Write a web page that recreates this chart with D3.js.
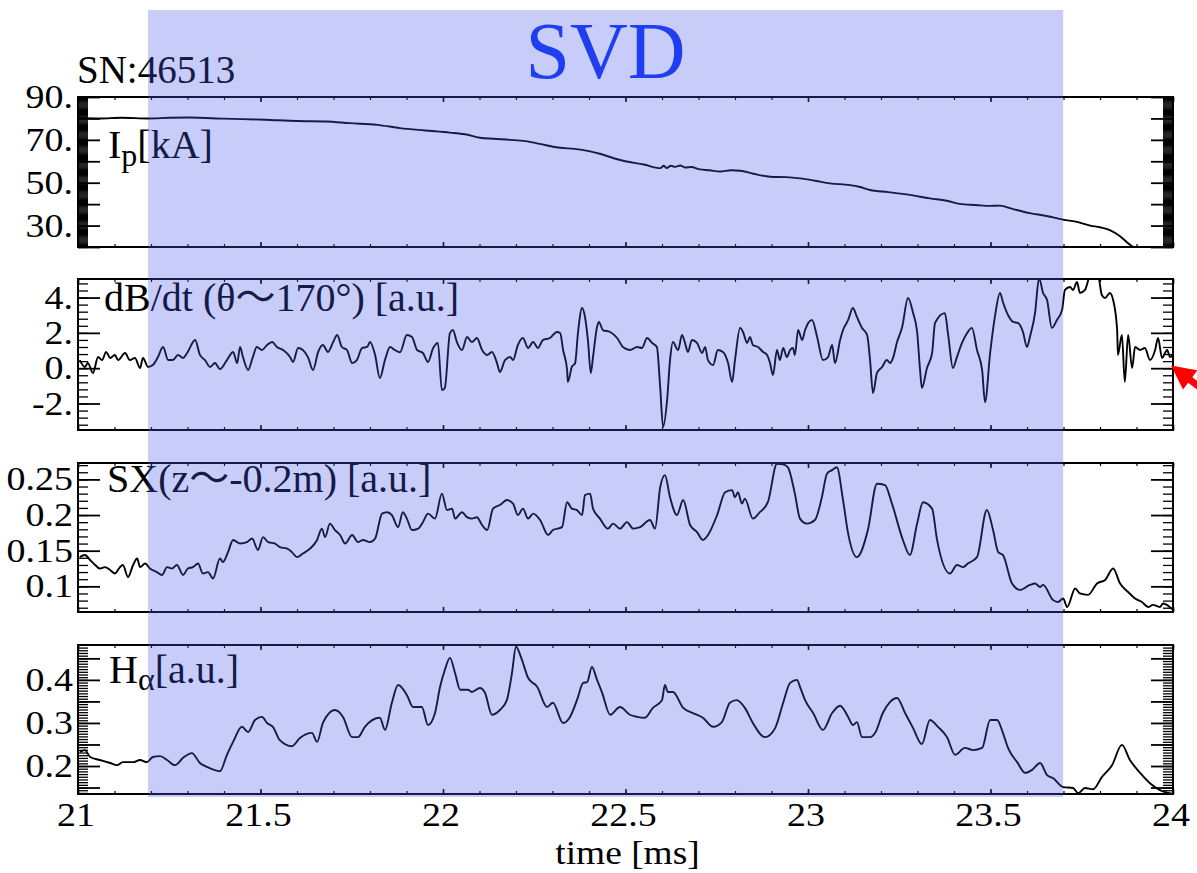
<!DOCTYPE html>
<html>
<head>
<meta charset="utf-8">
<title>SN:46513</title>
<script src="https://cdn.jsdelivr.net/npm/d3@7/dist/d3.min.js"></script>
<style>
  html, body { margin: 0; padding: 0; background: #fff; }
  svg { display: block; }
  svg text { font-family: "Liberation Serif", serif; fill: #000; }
  svg text tspan.wave { font-family: "Noto Sans CJK JP", "DejaVu Serif", serif; }
</style>
</head>
<body>
<svg id="chart" width="1197" height="873"></svg>
<script>
// ---------------- data ----------------
const shotNumber = "SN:46513";
const windowTitle = "SVD";
const timeRange = [21, 24];                        // ms
const timeTickValues = [21, 21.5, 22, 22.5, 23, 23.5, 24];
const timeTickLabels = ["21", "21.5", "22", "22.5", "23", "23.5", "24"];
const timeTitle = "time [ms]";
const svdWindow = [21.192, 23.699];                // ms, SVD analysis interval

// plasma current [kA]
const ipRange = [20, 90];
const ipTickValues = [90, 70, 50, 30];
const ipTickLabels = ["90.", "70.", "50.", "30."];
const ipSignal = [
  [21.000, 80.2], [21.060, 80.0], [21.120, 80.3], [21.192, 80.0], [21.250, 80.3], [21.307, 80.4],
  [21.400, 79.9], [21.512, 79.4], [21.600, 78.8], [21.680, 78.6], [21.745, 77.8], [21.820, 77.0],
  [21.882, 75.5], [21.950, 74.4], [22.019, 73.4], [22.060, 72.6], [22.101, 71.0], [22.140, 70.5],
  [22.184, 70.0], [22.225, 69.4], [22.280, 67.6], [22.321, 66.3], [22.360, 65.8], [22.403, 64.6],
  [22.430, 63.5], [22.470, 61.3], [22.499, 60.0], [22.550, 58.5], [22.595, 56.8], [22.605, 57.9],
  [22.612, 56.9], [22.625, 57.9], [22.636, 57.4], [22.650, 58.0], [22.663, 57.1], [22.680, 57.3],
  [22.704, 56.2], [22.730, 55.8], [22.759, 55.2], [22.790, 55.8], [22.814, 55.6], [22.850, 54.2],
  [22.896, 52.8], [22.940, 52.6], [22.978, 52.0], [23.020, 50.9], [23.060, 49.7], [23.115, 48.9],
  [23.140, 48.1], [23.170, 46.6], [23.220, 45.6], [23.279, 44.3], [23.334, 42.7], [23.380, 41.6],
  [23.416, 40.1], [23.460, 39.6], [23.499, 39.2], [23.526, 39.3], [23.560, 37.8], [23.608, 35.8],
  [23.650, 34.6], [23.699, 32.8], [23.740, 31.6], [23.773, 30.0], [23.800, 29.2], [23.827, 27.9],
  [23.855, 25.0], [23.882, 21.0], [23.900, 19.0]
];

// magnetic probe dB/dt at theta ~ 170 deg [a.u.]
const dbdtRange = [-3.5, 5.05];
const dbdtTickValues = [4, 2, 0, -2];
const dbdtTickLabels = ["4.", "2.", "0.", "-2."];
const dbdtSignal = [
  [21.005, 0.46], [21.019, 0.07], [21.027, 0.29], [21.041, -0.27], [21.055, 0.63], [21.066, 0.46],
  [21.077, 0.92], [21.088, 0.58], [21.101, 0.75], [21.110, 0.46], [21.129, 0.86], [21.142, 0.46],
  [21.156, 0.58], [21.170, 0.01], [21.178, 0.58], [21.192, 0.07], [21.205, 0.18], [21.219, 0.63],
  [21.233, 1.20], [21.247, 0.46], [21.260, 0.46], [21.274, 0.75], [21.288, 0.58], [21.299, 0.86],
  [21.321, 1.60], [21.334, 0.75], [21.348, 0.46], [21.362, 0.07], [21.375, 0.29], [21.389, -0.05],
  [21.408, 0.46], [21.425, 0.92], [21.436, 0.29], [21.444, 1.20], [21.452, 0.63], [21.466, -0.10],
  [21.479, 0.63], [21.490, 1.20], [21.504, 1.03], [21.518, 1.31], [21.532, 1.48], [21.545, 1.20],
  [21.562, 1.03], [21.581, 0.63], [21.589, 0.35], [21.603, 1.14], [21.616, 1.03], [21.630, 0.63],
  [21.644, -0.10], [21.658, 0.92], [21.671, 1.31], [21.685, 0.92], [21.699, 1.48], [21.710, 1.88],
  [21.723, 1.20], [21.737, 1.03], [21.751, 0.29], [21.764, 0.46], [21.778, 1.14], [21.792, 1.20],
  [21.800, 1.48], [21.814, 0.75], [21.827, -0.56], [21.841, 0.46], [21.855, 1.20], [21.868, 1.03],
  [21.882, 0.90], [21.901, 1.88], [21.915, 1.77], [21.929, 1.03], [21.945, 0.86], [21.959, 0.35],
  [21.973, 1.14], [21.986, 1.43], [21.997, -1.24], [22.005, -1.12], [22.019, 1.99], [22.027, 2.16],
  [22.038, 1.48], [22.052, 1.03], [22.066, 1.77], [22.079, 1.48], [22.093, 1.71], [22.107, 1.03],
  [22.121, 0.75], [22.134, 0.92], [22.148, 0.29], [22.156, -0.22], [22.170, 0.46], [22.184, 0.63],
  [22.192, 0.46], [22.205, 1.31], [22.219, 1.71], [22.233, 1.14], [22.247, 1.48], [22.260, 1.14],
  [22.274, 1.60], [22.293, 1.71], [22.312, 2.05], [22.321, 1.99], [22.329, 1.03], [22.340, -0.10],
  [22.342, -0.78], [22.353, 0.07], [22.362, 0.29], [22.370, 2.05], [22.381, 3.41], [22.389, 2.90],
  [22.397, 1.60], [22.405, -0.27], [22.411, 0.63], [22.422, 2.33], [22.427, 2.62], [22.438, 2.16],
  [22.458, 2.05], [22.477, 1.71], [22.493, 1.20], [22.512, 1.03], [22.532, 1.20], [22.545, 1.14],
  [22.559, 1.71], [22.573, 1.43], [22.586, 1.20], [22.595, -1.07], [22.603, -3.33], [22.614, -1.80],
  [22.622, 0.46], [22.630, 1.48], [22.644, 1.03], [22.655, 1.88], [22.663, 1.43], [22.671, 0.92],
  [22.682, 1.60], [22.696, 1.43], [22.710, 0.86], [22.718, 1.20], [22.726, 0.46], [22.740, 0.18],
  [22.753, 1.03], [22.767, 0.92], [22.781, 0.29], [22.792, -0.78], [22.800, 0.46], [22.814, 2.28],
  [22.822, 2.05], [22.833, 1.43], [22.841, 1.77], [22.849, 1.31], [22.863, 1.20], [22.877, 0.92],
  [22.888, 0.75], [22.896, 0.29], [22.904, -0.39], [22.915, 1.03], [22.923, 0.46], [22.932, 1.14],
  [22.942, 0.63], [22.951, 1.03], [22.959, 1.14], [22.964, 0.75], [22.973, 2.16], [22.984, 1.60],
  [22.992, 2.16], [23.011, 2.73], [23.025, 1.77], [23.041, 0.46], [23.055, 0.63], [23.066, 1.31],
  [23.074, 0.29], [23.088, 1.60], [23.096, 2.16], [23.110, 2.73], [23.123, 3.41], [23.134, 2.90],
  [23.148, 2.28], [23.162, 1.88], [23.170, 0.46], [23.178, -1.41], [23.189, -0.27], [23.203, 0.07],
  [23.216, 0.46], [23.225, 0.29], [23.233, 0.58], [23.244, 1.48], [23.258, 2.33], [23.274, 3.97],
  [23.288, 3.12], [23.299, 2.05], [23.307, -0.10], [23.312, -1.12], [23.326, 0.01], [23.340, 0.86],
  [23.348, 2.56], [23.375, 3.12], [23.384, 1.88], [23.397, 0.01], [23.408, 0.63], [23.422, 1.43],
  [23.436, 1.99], [23.449, 2.28], [23.463, 1.03], [23.477, -0.10], [23.485, -1.92], [23.499, 0.86],
  [23.512, 2.90], [23.526, 4.26], [23.534, 3.75], [23.548, 3.01], [23.562, 2.62], [23.575, 2.56],
  [23.589, 2.05], [23.600, 1.20], [23.608, 1.77], [23.622, 3.12], [23.633, 5.10], [23.644, 4.26],
  [23.655, 3.86], [23.668, 2.28], [23.682, 2.73], [23.696, 3.29], [23.704, 4.43], [23.718, 4.60],
  [23.726, 4.43], [23.737, 4.88], [23.745, 4.26], [23.759, 4.43], [23.773, 5.20], [23.795, 5.20],
  [23.805, 4.14], [23.814, 3.97], [23.827, 4.26], [23.836, 3.86], [23.847, 2.16], [23.849, 0.75],
  [23.860, 1.88], [23.868, -0.78], [23.877, 1.88], [23.888, 0.01], [23.896, 1.20], [23.910, 1.03],
  [23.923, 1.14], [23.937, 0.46], [23.951, 1.03], [23.959, 1.71], [23.970, 0.58], [23.984, 1.03],
  [23.992, 0.63], [24.000, 0.75]
];

// soft X-ray at z ~ -0.2 m [a.u.]
const sxRange = [0.064, 0.273];
const sxTickValues = [0.25, 0.2, 0.15, 0.1];
const sxTickLabels = ["0.25", "0.2", "0.15", "0.1"];
const sxSignal = [
  [21.005, 0.141], [21.019, 0.144], [21.033, 0.137], [21.047, 0.130], [21.060, 0.125], [21.074, 0.127],
  [21.088, 0.123], [21.101, 0.118], [21.115, 0.127], [21.123, 0.130], [21.137, 0.113], [21.151, 0.130],
  [21.162, 0.139], [21.170, 0.127], [21.184, 0.132], [21.197, 0.125], [21.216, 0.120], [21.230, 0.116],
  [21.244, 0.127], [21.258, 0.125], [21.271, 0.130], [21.288, 0.116], [21.301, 0.125], [21.315, 0.127],
  [21.329, 0.132], [21.342, 0.118], [21.356, 0.120], [21.370, 0.111], [21.389, 0.139], [21.397, 0.134],
  [21.411, 0.148], [21.425, 0.165], [21.444, 0.160], [21.463, 0.162], [21.477, 0.167], [21.493, 0.151],
  [21.507, 0.169], [21.521, 0.162], [21.540, 0.160], [21.553, 0.155], [21.573, 0.153], [21.586, 0.148],
  [21.600, 0.141], [21.616, 0.146], [21.636, 0.153], [21.655, 0.165], [21.668, 0.181], [21.677, 0.169],
  [21.690, 0.188], [21.704, 0.179], [21.718, 0.172], [21.732, 0.160], [21.751, 0.172], [21.767, 0.162],
  [21.781, 0.165], [21.800, 0.162], [21.814, 0.167], [21.833, 0.202], [21.847, 0.204], [21.860, 0.200],
  [21.877, 0.183], [21.890, 0.204], [21.901, 0.195], [21.915, 0.179], [21.932, 0.181], [21.945, 0.190],
  [21.959, 0.202], [21.978, 0.195], [21.997, 0.230], [22.011, 0.207], [22.025, 0.209], [22.033, 0.195],
  [22.052, 0.204], [22.066, 0.197], [22.079, 0.195], [22.093, 0.197], [22.107, 0.186], [22.121, 0.179],
  [22.137, 0.209], [22.156, 0.214], [22.175, 0.221], [22.192, 0.216], [22.205, 0.200], [22.219, 0.209],
  [22.233, 0.195], [22.247, 0.202], [22.266, 0.193], [22.288, 0.172], [22.301, 0.179], [22.326, 0.183],
  [22.340, 0.218], [22.353, 0.209], [22.367, 0.207], [22.381, 0.200], [22.389, 0.228], [22.403, 0.230],
  [22.411, 0.209], [22.430, 0.195], [22.452, 0.181], [22.466, 0.188], [22.485, 0.181], [22.504, 0.190],
  [22.521, 0.181], [22.540, 0.183], [22.567, 0.193], [22.581, 0.181], [22.595, 0.239], [22.608, 0.256],
  [22.622, 0.225], [22.641, 0.200], [22.658, 0.221], [22.677, 0.186], [22.696, 0.176], [22.712, 0.165],
  [22.726, 0.172], [22.751, 0.200], [22.773, 0.232], [22.792, 0.235], [22.800, 0.225], [22.808, 0.232],
  [22.819, 0.216], [22.827, 0.223], [22.849, 0.195], [22.868, 0.204], [22.890, 0.218], [22.915, 0.272],
  [22.932, 0.271], [22.945, 0.267], [22.964, 0.230], [22.978, 0.195], [22.997, 0.188], [23.019, 0.193],
  [23.038, 0.225], [23.052, 0.258], [23.066, 0.263], [23.079, 0.267], [23.096, 0.221], [23.110, 0.174],
  [23.134, 0.141], [23.164, 0.179], [23.189, 0.244], [23.211, 0.242], [23.230, 0.216], [23.260, 0.165],
  [23.279, 0.144], [23.299, 0.188], [23.315, 0.218], [23.340, 0.209], [23.353, 0.167], [23.389, 0.118],
  [23.408, 0.130], [23.425, 0.127], [23.438, 0.132], [23.463, 0.141], [23.490, 0.207], [23.507, 0.179],
  [23.521, 0.148], [23.534, 0.144], [23.559, 0.104], [23.581, 0.095], [23.608, 0.102], [23.622, 0.104],
  [23.636, 0.099], [23.644, 0.102], [23.671, 0.081], [23.685, 0.078], [23.699, 0.083], [23.710, 0.071],
  [23.732, 0.097], [23.745, 0.090], [23.767, 0.088], [23.792, 0.104], [23.814, 0.109], [23.836, 0.125],
  [23.855, 0.104], [23.877, 0.092], [23.896, 0.083], [23.915, 0.078], [23.932, 0.071], [23.945, 0.074],
  [23.964, 0.071], [23.973, 0.076], [24.000, 0.067]
];

// H-alpha emission [a.u.]
const haRange = [0.135, 0.481];
const haTickValues = [0.4, 0.3, 0.2];
const haTickLabels = ["0.4", "0.3", "0.2"];
const haSignal = [
  [21.005, 0.233], [21.019, 0.237], [21.033, 0.221], [21.060, 0.214], [21.088, 0.207], [21.107, 0.202],
  [21.123, 0.209], [21.151, 0.209], [21.170, 0.214], [21.189, 0.209], [21.205, 0.221], [21.225, 0.223],
  [21.244, 0.214], [21.266, 0.202], [21.288, 0.219], [21.312, 0.230], [21.334, 0.207], [21.353, 0.198],
  [21.389, 0.188], [21.408, 0.226], [21.425, 0.256], [21.449, 0.291], [21.466, 0.279], [21.485, 0.307],
  [21.504, 0.314], [21.518, 0.300], [21.534, 0.291], [21.553, 0.260], [21.586, 0.246], [21.608, 0.265],
  [21.641, 0.277], [21.655, 0.256], [21.671, 0.300], [21.704, 0.330], [21.726, 0.314], [21.751, 0.267],
  [21.767, 0.267], [21.786, 0.291], [21.827, 0.312], [21.841, 0.284], [21.860, 0.347], [21.877, 0.388],
  [21.901, 0.365], [21.918, 0.337], [21.942, 0.337], [21.959, 0.295], [21.978, 0.323], [21.992, 0.384],
  [22.005, 0.423], [22.019, 0.451], [22.033, 0.416], [22.047, 0.377], [22.068, 0.377], [22.079, 0.372],
  [22.101, 0.381], [22.115, 0.370], [22.134, 0.319], [22.156, 0.330], [22.175, 0.353], [22.189, 0.416],
  [22.200, 0.477], [22.216, 0.447], [22.233, 0.405], [22.258, 0.384], [22.285, 0.337], [22.301, 0.347],
  [22.329, 0.300], [22.348, 0.314], [22.367, 0.353], [22.384, 0.393], [22.395, 0.395], [22.408, 0.430],
  [22.422, 0.400], [22.436, 0.370], [22.458, 0.319], [22.485, 0.337], [22.512, 0.319], [22.532, 0.314],
  [22.553, 0.312], [22.575, 0.335], [22.600, 0.353], [22.608, 0.388], [22.616, 0.372], [22.630, 0.372],
  [22.658, 0.335], [22.685, 0.323], [22.712, 0.312], [22.740, 0.291], [22.764, 0.302], [22.786, 0.347],
  [22.805, 0.353], [22.827, 0.335], [22.849, 0.300], [22.882, 0.267], [22.910, 0.288], [22.932, 0.347],
  [22.951, 0.393], [22.970, 0.400], [22.978, 0.384], [22.992, 0.353], [23.014, 0.323], [23.041, 0.284],
  [23.066, 0.323], [23.088, 0.340], [23.110, 0.314], [23.123, 0.295], [23.134, 0.302], [23.148, 0.267],
  [23.170, 0.267], [23.184, 0.277], [23.205, 0.323], [23.225, 0.349], [23.244, 0.358], [23.266, 0.323],
  [23.288, 0.288], [23.312, 0.251], [23.334, 0.307], [23.356, 0.291], [23.381, 0.267], [23.403, 0.226],
  [23.430, 0.242], [23.452, 0.237], [23.477, 0.242], [23.499, 0.307], [23.518, 0.307], [23.534, 0.277],
  [23.548, 0.242], [23.573, 0.209], [23.595, 0.184], [23.614, 0.191], [23.636, 0.207], [23.655, 0.179],
  [23.671, 0.172], [23.699, 0.151], [23.726, 0.149], [23.740, 0.137], [23.759, 0.149], [23.781, 0.146],
  [23.805, 0.174], [23.833, 0.202], [23.860, 0.249], [23.882, 0.214], [23.910, 0.184], [23.937, 0.160],
  [23.964, 0.144], [24.000, 0.135]
];

// probe reading highlighted by the arrow (t, dB/dt)
const arrowTarget = [24.0, 0.15];

// ---------------- layout ----------------
const svg = d3.select("#chart");
const plotLeft = 78, plotRight = 1173;
const x = d3.scaleLinear().domain(timeRange).range([plotLeft, plotRight]);

const panels = [
  { id: "ip", signal: ipSignal, range: ipRange, top: 97, bottom: 247,
    tickValues: ipTickValues, tickLabels: ipTickLabels, majorStep: 10, minorStep: 0.5 },
  { id: "dbdt", signal: dbdtSignal, range: dbdtRange, top: 279, bottom: 430,
    tickValues: dbdtTickValues, tickLabels: dbdtTickLabels, majorStep: 2, minorStep: 0.4 },
  { id: "sx", signal: sxSignal, range: sxRange, top: 463, bottom: 612,
    tickValues: sxTickValues, tickLabels: sxTickLabels, majorStep: 0.05, minorStep: 0.01 },
  { id: "ha", signal: haSignal, range: haRange, top: 645, bottom: 794,
    tickValues: haTickValues, tickLabels: haTickLabels, majorStep: 0.05, minorStep: 0.00625 }
];

// regularly spaced tick positions inside a domain
function stepsWithin(domain, step, anchor) {
  const lo = Math.min(domain[0], domain[1]), hi = Math.max(domain[0], domain[1]);
  const out = [];
  let k = Math.ceil((lo - anchor) / step - 1e-6);
  for (let v = anchor + k * step; v <= hi + 1e-9; k++, v = anchor + k * step) out.push(+v.toFixed(6));
  return out;
}

function styleAxis(sel, width) {
  sel.select(".domain").remove();
  sel.selectAll(".tick line").attr("stroke", "#000").attr("stroke-width", width);
  sel.selectAll(".tick text").remove();
}

const xMinor = stepsWithin(timeRange, 0.1, 21);
const xMajor = stepsWithin(timeRange, 0.5, 21);

const root = svg.append("g").attr("class", "panels");

panels.forEach(p => {
  const y = d3.scaleLinear().domain(p.range).range([p.bottom, p.top]);
  p.y = y;
  const g = root.append("g").attr("class", "panel-" + p.id);
  const clipId = "clip-" + p.id;

  svg.append("clipPath").attr("id", clipId)
    .append("rect")
    .attr("x", plotLeft).attr("y", p.top)
    .attr("width", plotRight - plotLeft).attr("height", p.bottom - p.top);

  // y-axis ticks on both sides, pointing inward
  const minorVals = stepsWithin(p.range, p.minorStep, 0);
  const majorVals = stepsWithin(p.range, p.majorStep, 0);

  g.append("g").attr("transform", `translate(${plotLeft},0)`)
    .call(d3.axisLeft(y).tickValues(minorVals).tickSize(-10).tickFormat(""))
    .call(s => styleAxis(s, 1.3));
  g.append("g").attr("transform", `translate(${plotLeft},0)`)
    .call(d3.axisLeft(y).tickValues(majorVals).tickSize(-22).tickFormat(""))
    .call(s => styleAxis(s, 1.8));
  g.append("g").attr("transform", `translate(${plotRight},0)`)
    .call(d3.axisRight(y).tickValues(minorVals).tickSize(-10).tickFormat(""))
    .call(s => styleAxis(s, 1.3));
  g.append("g").attr("transform", `translate(${plotRight},0)`)
    .call(d3.axisRight(y).tickValues(majorVals).tickSize(-22).tickFormat(""))
    .call(s => styleAxis(s, 1.8));

  // time ticks along top and bottom edges
  g.append("g").attr("transform", `translate(0,${p.top})`)
    .call(d3.axisTop(x).tickValues(xMinor).tickSize(-3).tickFormat(""))
    .call(s => styleAxis(s, 1.2));
  g.append("g").attr("transform", `translate(0,${p.top})`)
    .call(d3.axisTop(x).tickValues(xMajor).tickSize(-5).tickFormat(""))
    .call(s => styleAxis(s, 1.6));
  g.append("g").attr("transform", `translate(0,${p.bottom})`)
    .call(d3.axisBottom(x).tickValues(xMinor).tickSize(-3).tickFormat(""))
    .call(s => styleAxis(s, 1.2));
  g.append("g").attr("transform", `translate(0,${p.bottom})`)
    .call(d3.axisBottom(x).tickValues(xMajor).tickSize(-5).tickFormat(""))
    .call(s => styleAxis(s, 1.6));

  // signal trace
  g.append("path")
    .datum(p.signal)
    .attr("clip-path", `url(#${clipId})`)
    .attr("fill", "none")
    .attr("stroke", "#000")
    .attr("stroke-width", 1.9)
    .attr("stroke-linejoin", "round")
    .attr("d", d3.line().curve(d3.curveMonotoneX).x(d => x(d[0])).y(d => y(d[1])));

  // frame
  g.append("rect")
    .attr("x", plotLeft).attr("y", p.top)
    .attr("width", plotRight - plotLeft).attr("height", p.bottom - p.top)
    .attr("fill", "none").attr("stroke", "#000").attr("stroke-width", 2);

  // y tick labels
  g.selectAll("text.ylab")
    .data(p.tickValues.map((v, i) => ({ v, label: p.tickLabels[i] })))
    .join("text")
    .attr("class", "ylab")
    .attr("text-anchor", "end")
    .attr("font-size", 33)
    .attr("transform", d => `translate(73,${y(d.v) + 11}) scale(1.15,1)`)
    .text(d => d.label);
});

// panel titles
const titleSize = 40;
{
  const t = root.append("text").attr("x", 108).attr("y", 158).attr("font-size", titleSize);
  t.append("tspan").text("I");
  t.append("tspan").attr("font-size", 32).attr("dy", 8).text("p");
  t.append("tspan").attr("dy", -8).text("[kA]");
}
{
  const t = root.append("text").attr("x", 104).attr("y", 311).attr("font-size", titleSize);
  t.append("tspan").text("dB/dt (\u03B8");
  t.append("tspan").attr("class", "wave").text("\u301C");
  t.append("tspan").text("170\u00B0) [a.u.]");
}
{
  const t = root.append("text").attr("x", 107).attr("y", 492).attr("font-size", titleSize);
  t.append("tspan").text("SX(z");
  t.append("tspan").attr("class", "wave").text("\u301C");
  t.append("tspan").text("-0.2m) [a.u.]");
}
{
  const t = root.append("text").attr("x", 109).attr("y", 683).attr("font-size", titleSize);
  t.append("tspan").text("H");
  t.append("tspan").attr("font-size", 32).attr("dy", 7).text("\u03B1");
  t.append("tspan").attr("dy", -7).text("[a.u.]");
}

// shot number
root.append("text").attr("x", 77).attr("y", 83).attr("font-size", 39).text(shotNumber);

// time axis labels
const lastPanel = panels[panels.length - 1];
root.selectAll("text.xlab")
  .data(timeTickValues.map((v, i) => ({ v, label: timeTickLabels[i] })))
  .join("text")
  .attr("class", "xlab")
  .attr("text-anchor", "middle")
  .attr("font-size", 33)
  .attr("transform", d => `translate(${x(d.v) - 2},${lastPanel.bottom + 32}) scale(1.15,1)`)
  .text(d => d.label);

root.append("text")
  .attr("x", (x(timeRange[0]) + x(timeRange[1])) / 2 + 2)
  .attr("y", 864)
  .attr("text-anchor", "middle")
  .attr("font-size", 34)
  .attr("transform", `translate(${(x(timeRange[0]) + x(timeRange[1])) / 2 + 2},0) scale(1.1,1) translate(${-((x(timeRange[0]) + x(timeRange[1])) / 2 + 2)},0)`)
  .text(timeTitle);

// SVD analysis window, laid over the traces
svg.append("rect")
  .attr("x", x(svdWindow[0]))
  .attr("y", 10)
  .attr("width", x(svdWindow[1]) - x(svdWindow[0]))
  .attr("height", 787)
  .attr("fill", "rgb(70,85,235)")
  .attr("fill-opacity", 0.3);

svg.append("text")
  .attr("x", (x(svdWindow[0]) + x(svdWindow[1])) / 2)
  .attr("y", 78)
  .attr("text-anchor", "middle")
  .attr("font-size", 80)
  .style("fill", "#1f3ef0")
  .text(windowTitle);

// red arrow pointing at the end of the probe trace
{
  const yd = panels[1].y;
  const tip = [x(arrowTarget[0]) - 2, yd(arrowTarget[1])];
  const tail = [tip[0] + 40, tip[1] + 30];
  const dx = tip[0] - tail[0], dy = tip[1] - tail[1];
  const len = Math.hypot(dx, dy);
  const ux = dx / len, uy = dy / len, nx = -uy, ny = ux;
  const headLen = 24, headHalf = 12, shaftHalf = 3.5;
  const bx = tip[0] - ux * headLen, by = tip[1] - uy * headLen;
  const pts = [
    tip,
    [bx + nx * headHalf, by + ny * headHalf],
    [bx + nx * shaftHalf, by + ny * shaftHalf],
    [tail[0] + nx * shaftHalf, tail[1] + ny * shaftHalf],
    [tail[0] - nx * shaftHalf, tail[1] - ny * shaftHalf],
    [bx - nx * shaftHalf, by - ny * shaftHalf],
    [bx - nx * headHalf, by - ny * headHalf]
  ];
  svg.append("polygon")
    .attr("points", pts.map(q => q.join(",")).join(" "))
    .attr("fill", "#f00");
}
</script>
</body>
</html>
